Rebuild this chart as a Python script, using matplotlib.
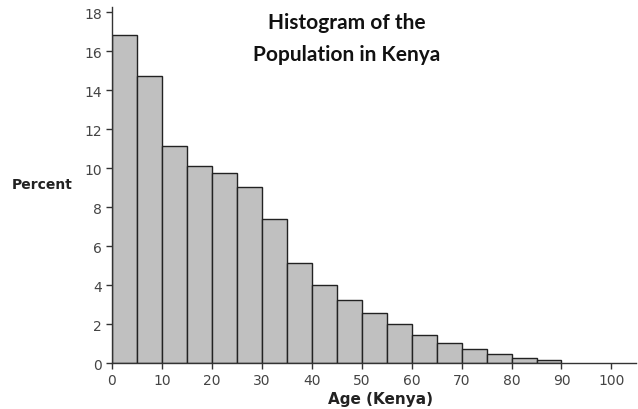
import matplotlib.pyplot as plt
import numpy as np

# bin left edges (years) and percent per 5-year bin
bin_edges = list(range(0, 95, 5))
percent = [16.84, 14.70, 11.13, 10.11, 9.73, 9.05, 7.38, 5.14, 4.00,
           3.26, 2.55, 1.98, 1.45, 1.03, 0.72, 0.48, 0.24, 0.14]
x_ticks = list(range(0, 101, 10))
y_ticks = list(range(0, 19, 2))

fig = plt.figure(figsize=(6.38, 4.10), dpi=100)
ax = fig.add_axes([0.1755, 0.112, 0.822, 0.868])

ax.bar(bin_edges[:-1], percent, width=5, align="edge",
       color="#c0c0c0", edgecolor="#222222", linewidth=1.0)

ax.set_xlim(0, 105)
ax.set_ylim(0, 18.25)
ax.set_xticks(x_ticks)
ax.set_yticks(y_ticks)
ax.spines["top"].set_visible(False)
ax.spines["right"].set_visible(False)
for s in ("left", "bottom"):
    ax.spines[s].set_color("#333333")
    ax.spines[s].set_linewidth(1.0)
ax.tick_params(direction="out", length=4, width=1, color="#333333",
               labelsize=10, labelcolor="#444444", pad=3)

fig.text(0.544, 0.945, "Histogram of the", ha="center", va="center",
         fontsize=15, fontweight="bold", family="Lato", color="#111111")
fig.text(0.544, 0.865, "Population in Kenya", ha="center", va="center",
         fontsize=15, fontweight="bold", family="Lato", color="#111111")
fig.text(0.066, 0.548, "Percent", ha="center", va="center",
         fontsize=10, fontweight="bold", color="#222222")
fig.text(0.596, 0.025, "Age (Kenya)", ha="center", va="center",
         fontsize=11, fontweight="bold", color="#222222")

plt.savefig("out.png", dpi=100, facecolor="white")
